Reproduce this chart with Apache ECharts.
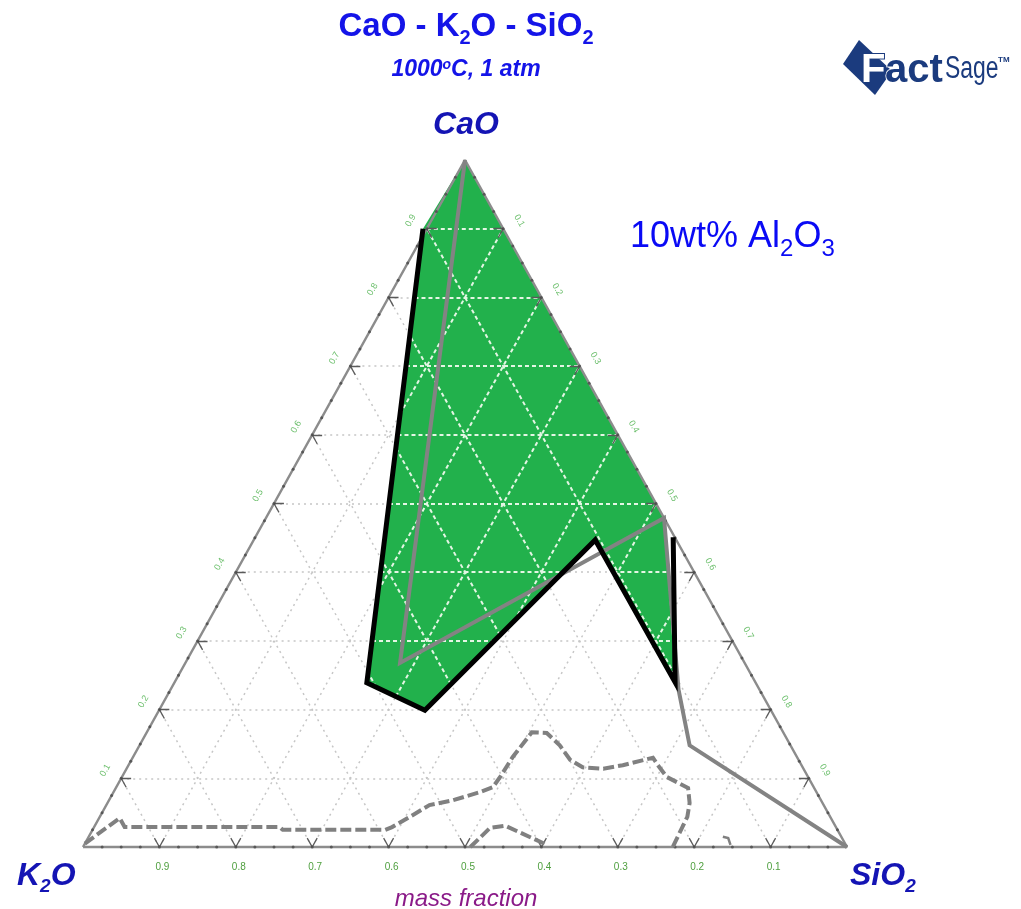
<!DOCTYPE html>
<html>
<head>
<meta charset="utf-8">
<title>CaO - K2O - SiO2 isothermal section</title>
<script src="https://cdn.jsdelivr.net/npm/echarts@6/dist/echarts.min.js"></script>
<style>
  html, body { margin: 0; padding: 0; background: #ffffff; }
  #chart { width: 1021px; height: 909px; }
</style>
</head>
<body>
<div id="chart"></div>
<script>
// ---- data: compositions are [CaO, SiO2] mass fractions, K2O = 1 - CaO - SiO2 ----
const tickValues = [0.1, 0.2, 0.3, 0.4, 0.5, 0.6, 0.7, 0.8, 0.9];
const tickLabels = ['0.1', '0.2', '0.3', '0.4', '0.5', '0.6', '0.7', '0.8', '0.9'];
const minorDivisions = 40; // dots along the triangle edges every 0.025

// shaded solid-phase field
const greenField = [
  [1.000, 0.000], [0.479, 0.521], [0.240, 0.655], [0.447, 0.447],
  [0.199, 0.348], [0.239, 0.252], [0.900, -0.005]
];
// grey solid phase boundary
const greyBoundary = [
  [1.000, 0.000], [0.268, 0.281], [0.479, 0.521], [0.229, 0.665],
  [0.148, 0.720], [0.000, 1.000]
];
// heavy black outline
const blackBoundary = [
  [0.900, -0.005], [0.239, 0.252], [0.199, 0.348], [0.447, 0.447],
  [0.240, 0.655], [0.451, 0.547]
];
// dashed liquid boundary near the K2O-SiO2 side
const dashedLiquidus = [
  [0.005, 0.000], [0.042, 0.027], [0.029, 0.040], [0.029, 0.243],
  [0.025, 0.249], [0.025, 0.383], [0.029, 0.390], [0.047, 0.409],
  [0.061, 0.423], [0.068, 0.450], [0.080, 0.480], [0.087, 0.493],
  [0.102, 0.495], [0.131, 0.497], [0.167, 0.504], [0.166, 0.524],
  [0.148, 0.550], [0.127, 0.574], [0.116, 0.596], [0.114, 0.624],
  [0.119, 0.647], [0.130, 0.681], [0.119, 0.693], [0.102, 0.713],
  [0.086, 0.749], [0.064, 0.762], [0.044, 0.769], [0.029, 0.770],
  [0.000, 0.772]
];
const dashedArch = [[0.000, 0.507], [0.028, 0.519], [0.031, 0.537], [0.003, 0.606]];
const smallHook = [[0.015, 0.830], [0.013, 0.838], [0.003, 0.846]];

// ---- geometry helpers ----
const FONT = "'Liberation Sans', Arial, Helvetica, sans-serif";
function tern(c, s) { return [s + c / 2, c]; }
const toXY = arr => arr.map(p => tern(p[0], p[1]));
const greenXY = toXY(greenField);

function pointInPoly(pt, poly) {
  let inside = false;
  for (let i = 0, j = poly.length - 1; i < poly.length; j = i++) {
    const xi = poly[i][0], yi = poly[i][1], xj = poly[j][0], yj = poly[j][1];
    if (((yi > pt[1]) !== (yj > pt[1])) &&
        (pt[0] < (xj - xi) * (pt[1] - yi) / (yj - yi) + xi)) inside = !inside;
  }
  return inside;
}
// split a straight grid line into the parts inside / outside the shaded field
function splitSegment(p0, p1, poly, inside, outside) {
  const ts = [0, 1];
  const rx = p1[0] - p0[0], ry = p1[1] - p0[1];
  for (let i = 0; i < poly.length; i++) {
    const q0 = poly[i], q1 = poly[(i + 1) % poly.length];
    const sx = q1[0] - q0[0], sy = q1[1] - q0[1];
    const den = rx * sy - ry * sx;
    if (Math.abs(den) < 1e-12) continue;
    const qx = q0[0] - p0[0], qy = q0[1] - p0[1];
    const t = (qx * sy - qy * sx) / den;
    const u = (qx * ry - qy * rx) / den;
    if (t > 0 && t < 1 && u >= 0 && u <= 1) ts.push(t);
  }
  ts.sort((a, b) => a - b);
  const at = t => [p0[0] + rx * t, p0[1] + ry * t];
  for (let k = 0; k < ts.length - 1; k++) {
    const a = ts[k], b = ts[k + 1];
    if (b - a < 1e-9) continue;
    const seg = { coords: [at(a), at(b)] };
    (pointInPoly(at((a + b) / 2), poly) ? inside : outside).push(seg);
  }
}

const gridInside = [], gridOutside = [];
tickValues.forEach(v => {
  splitSegment(tern(v, 0), tern(v, 1 - v), greenXY, gridInside, gridOutside);   // CaO = v
  splitSegment(tern(0, v), tern(1 - v, v), greenXY, gridInside, gridOutside);   // SiO2 = v
  splitSegment(tern(0, 1 - v), tern(1 - v, 0), greenXY, gridInside, gridOutside); // K2O = v
});

// short tick marks where grid lines meet the edges
const tickLen = 0.013;
const tickSegs = [];
tickValues.forEach(v => {
  tickSegs.push({ coords: [tern(v, 0), tern(v, tickLen)] });
  tickSegs.push({ coords: [tern(v, 0), tern(v - tickLen, tickLen)] });
  tickSegs.push({ coords: [tern(v, 1 - v), tern(v, 1 - v - tickLen)] });
  tickSegs.push({ coords: [tern(v, 1 - v), tern(v - tickLen, 1 - v)] });
  tickSegs.push({ coords: [tern(0, v), tern(tickLen, v)] });
  tickSegs.push({ coords: [tern(0, v), tern(tickLen, v - tickLen)] });
});
const edgeDots = [];
for (let i = 1; i < minorDivisions; i++) {
  const t = i / minorDivisions;
  edgeDots.push(tern(0, t), tern(t, 0), tern(t, 1 - t));
}
const triangle = [tern(0, 0), tern(0, 1), tern(1, 0), tern(0, 0)];

// axis labels: CaO on the left side, SiO2 on the right side, K2O along the base
const leftLabelPts = tickValues.map(v => tern(v, 0));
const rightLabelPts = tickValues.map(v => tern(1 - v, v));
const baseLabelPts = tickValues.map(v => tern(0, 1 - v));

function labelSeries(points, dx, dy, rot, size, color) {
  return {
    type: 'custom', coordinateSystem: 'cartesian2d', clip: false, silent: true, z: 9,
    data: points,
    renderItem: (params, api) => {
      const p = api.coord([api.value(0), api.value(1)]);
      return {
        type: 'text', x: p[0] + dx, y: p[1] + dy, rotation: rot,
        style: {
          text: tickLabels[params.dataIndex], fill: color,
          font: size + 'px ' + FONT, align: 'center', verticalAlign: 'middle'
        }
      };
    }
  };
}
function lineSeries(data, color, width, type, z) {
  return {
    type: 'line', data: toXY(data), z: z, silent: true, symbol: 'none', showSymbol: false,
    clip: false, animation: false,
    lineStyle: { color: color, width: width, type: type, cap: 'butt', join: 'miter' }
  };
}

const chart = echarts.init(document.getElementById('chart'), null, { renderer: 'canvas' });

const blueTitle = '#1414e8';
const cornerBlue = '#1414b4';
const logoBlue = '#1b3b7e';

function cornerRich(fill) {
  return {
    m: { fontSize: 32, fontWeight: 'bold', fontStyle: 'italic', fontFamily: FONT, fill: fill, lineHeight: 32, verticalAlign: 'top' },
    s: { fontSize: 19, fontWeight: 'bold', fontStyle: 'italic', fontFamily: FONT, fill: fill, lineHeight: 20, verticalAlign: 'top', padding: [17, 0, 0, 0] }
  };
}

const option = {
  animation: false,
  backgroundColor: '#ffffff',
  grid: { left: 83, top: 160, width: 764, height: 687, containLabel: false },
  xAxis: { type: 'value', min: 0, max: 1, show: false },
  yAxis: { type: 'value', min: 0, max: 1, show: false },
  graphic: [
    { type: 'text', x: 466, y: 10, z: 20, style: {
        text: '{m|CaO - K}{s|2}{m|O - SiO}{s|2}', align: 'center', verticalAlign: 'top',
        rich: {
          m: { fontSize: 33, fontWeight: 'bold', fontFamily: FONT, fill: blueTitle, lineHeight: 33, verticalAlign: 'top' },
          s: { fontSize: 20, fontWeight: 'bold', fontFamily: FONT, fill: blueTitle, lineHeight: 20, verticalAlign: 'top', padding: [18, 0, 0, 0] }
        } } },
    { type: 'text', x: 466, y: 58, z: 20, style: {
        text: '{m|1000}{u|o}{m|C, 1 atm}', align: 'center', verticalAlign: 'top',
        rich: {
          m: { fontSize: 23, fontWeight: 'bold', fontStyle: 'italic', fontFamily: FONT, fill: blueTitle, lineHeight: 23, verticalAlign: 'top' },
          u: { fontSize: 14, fontWeight: 'bold', fontStyle: 'italic', fontFamily: FONT, fill: blueTitle, lineHeight: 14, verticalAlign: 'top' }
        } } },
    { type: 'text', x: 466, y: 109, z: 20, style: {
        text: '{m|CaO}', align: 'center', verticalAlign: 'top', rich: cornerRich(cornerBlue) } },
    { type: 'text', x: 17, y: 860, z: 20, style: {
        text: '{m|K}{s|2}{m|O}', align: 'left', verticalAlign: 'top', rich: cornerRich(cornerBlue) } },
    { type: 'text', x: 850, y: 860, z: 20, style: {
        text: '{m|SiO}{s|2}', align: 'left', verticalAlign: 'top', rich: cornerRich(cornerBlue) } },
    { type: 'text', x: 466, y: 899, z: 20, style: {
        text: 'mass fraction', align: 'center', verticalAlign: 'middle',
        font: 'italic 24px ' + FONT, fill: '#8a1a88' } },
    { type: 'text', x: 630, y: 219, z: 20, style: {
        text: '{m|10wt% Al}{s|2}{m|O}{s|3}', align: 'left', verticalAlign: 'top',
        rich: {
          m: { fontSize: 36, fontFamily: FONT, fill: '#0a0af5', lineHeight: 36, verticalAlign: 'top' },
          s: { fontSize: 24, fontFamily: FONT, fill: '#0a0af5', lineHeight: 24, verticalAlign: 'top', padding: [18, 0, 0, 0] }
        } } },
    // FactSage mark
    { type: 'polygon', z: 20, shape: { points: [[859, 40], [843, 64], [875, 95], [892, 71]] },
      style: { fill: logoBlue } },
    { type: 'text', x: 861, y: 71, z: 21, style: {
        text: 'F', font: 'bold 40px ' + FONT, fill: '#ffffff', stroke: logoBlue, lineWidth: 2,
        align: 'left', verticalAlign: 'middle' } },
    { type: 'text', x: 885, y: 71, z: 21, style: {
        text: 'act', font: 'bold 40px ' + FONT, fill: logoBlue, stroke: '#ffffff', lineWidth: 1.5,
        align: 'left', verticalAlign: 'middle' } },
    { type: 'text', x: 945, y: 69, z: 21, scaleX: 0.74, style: {
        text: 'Sage', font: '31px ' + FONT, fill: logoBlue,
        align: 'left', verticalAlign: 'middle' } },
    { type: 'text', x: 998, y: 60, z: 21, style: {
        text: 'TM', font: 'bold 8px ' + FONT, fill: logoBlue, align: 'left', verticalAlign: 'middle' } }
  ],
  series: [
    { // shaded field
      type: 'custom', coordinateSystem: 'cartesian2d', clip: false, silent: true, z: 1,
      data: [[0, 0]],
      renderItem: (params, api) => ({
        type: 'polygon',
        shape: { points: greenXY.map(p => api.coord(p)) },
        style: { fill: '#22b14c' }
      })
    },
    { type: 'lines', coordinateSystem: 'cartesian2d', z: 2, silent: true, data: gridOutside,
      lineStyle: { color: '#c6c6c6', width: 1.5, type: [2, 4], opacity: 1, curveness: 0 } },
    { type: 'lines', coordinateSystem: 'cartesian2d', z: 3, silent: true, data: gridInside,
      lineStyle: { color: '#e4f6e4', width: 2, type: [4, 3], opacity: 1, curveness: 0 } },
    { type: 'line', data: triangle, z: 4, silent: true, symbol: 'none', clip: false,
      lineStyle: { color: '#8c8c8c', width: 2.5 } },
    { type: 'lines', coordinateSystem: 'cartesian2d', z: 5, silent: true, data: tickSegs,
      lineStyle: { color: '#5a5a5a', width: 1.3, opacity: 1, curveness: 0 } },
    { type: 'scatter', data: edgeDots, z: 5, silent: true, symbol: 'circle', symbolSize: 3,
      itemStyle: { color: '#4a4a4a' } },
    lineSeries(dashedLiquidus, '#808080', 4, [11, 4], 6),
    lineSeries(dashedArch, '#808080', 4, [11, 4], 6),
    lineSeries(smallHook, '#808080', 2.5, 'solid', 6),
    lineSeries(greyBoundary, '#838383', 4, 'solid', 7),
    lineSeries(blackBoundary, '#000000', 5, 'solid', 8),
    labelSeries(leftLabelPts, -16, -8, Math.PI / 3, 9, '#6cbf6c'),
    labelSeries(rightLabelPts, 16, -8, -Math.PI / 3, 9, '#6cbf6c'),
    labelSeries(baseLabelPts, 3, 20, 0, 10, '#4f9f3f')
  ]
};
chart.setOption(option);
</script>
</body>
</html>
